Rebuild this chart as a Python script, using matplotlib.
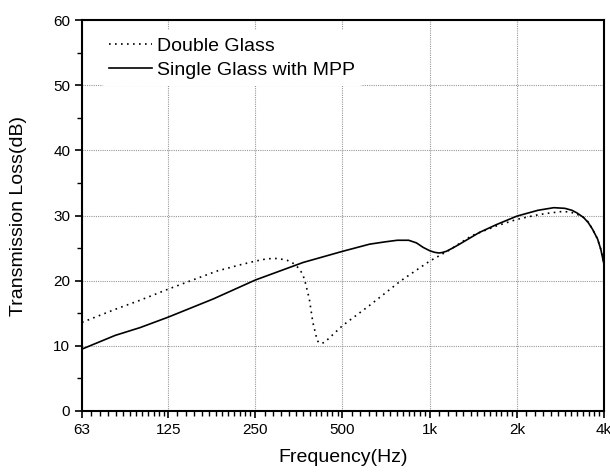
import numpy as np
import matplotlib.pyplot as plt
from matplotlib.ticker import FixedLocator, NullFormatter

plt.rcParams['font.family'] = ['Liberation Sans', 'DejaVu Sans']

# values
freq_double = [63, 82, 100, 125, 154, 185, 200, 220, 250, 270, 285, 300, 323, 340, 355, 365,
               372, 384, 395, 409, 417, 425, 434, 460, 500, 620, 796, 1000, 1160, 1397, 1700,
               2000, 2300, 2515, 2850, 3050, 3225, 3400, 3530, 3650, 3800, 3900, 4000]
tl_double = [13.6, 15.6, 17.0, 18.7, 20.2, 21.5, 21.9, 22.4, 23.0, 23.3, 23.4, 23.4, 23.1, 22.6, 21.8, 20.9,
             19.7, 17.2, 13.6, 10.8, 10.4, 10.4, 10.55, 11.6, 13.1, 16.2, 20.0, 23.0, 24.6, 26.9, 28.4,
             29.4, 30.0, 30.3, 30.6, 30.55, 30.2, 29.7, 29.0, 27.9, 26.4, 24.8, 22.5]

freq_single = [63, 82, 100, 125, 179, 250, 366, 500, 620, 700, 773, 846, 900, 950, 1000, 1040,
               1075, 1100, 1141, 1200, 1268, 1485, 1700, 2000, 2366, 2683, 2930, 3100, 3225,
               3400, 3530, 3650, 3800, 3900, 4000]
tl_single = [9.5, 11.6, 12.8, 14.4, 17.2, 20.1, 22.8, 24.5, 25.6, 25.95, 26.2, 26.2, 25.8, 25.1, 24.6, 24.35,
             24.25, 24.3, 24.5, 25.0, 25.6, 27.4, 28.6, 29.9, 30.8, 31.2, 31.1, 30.8, 30.4,
             29.7, 28.9, 27.9, 26.4, 24.8, 22.5]

xticks = [63, 125, 250, 500, 1000, 2000, 4000]
xlabels = ['63', '125', '250', '500', '1k', '2k', '4k']

fig = plt.figure(figsize=(6.1, 4.72), dpi=100)
ax = fig.add_axes([82 / 610, 1 - 411 / 472, 522 / 610, 391 / 472])

ax.plot(freq_double, tl_double, color='black', lw=1.2, linestyle=(0, (1, 2.6)), label='Double Glass')
ax.plot(freq_single, tl_single, color='black', lw=1.2, label='Single Glass with MPP')

ax.set_xscale('log')
ax.set_xlim(63, 4000)
ax.set_ylim(0, 60)
ax.xaxis.set_major_locator(FixedLocator(xticks))
ax.set_xticklabels(xlabels)
minors = []
for f0 in xticks[:-1]:
    minors += [f0 * (1 + k / 13) for k in range(1, 13)]
ax.xaxis.set_minor_locator(FixedLocator(minors))
ax.xaxis.set_minor_formatter(NullFormatter())
ax.set_yticks(range(0, 61, 10))
ax.set_yticks(range(5, 60, 10), minor=True)

ax.grid(True, which='major', color='#999999', linestyle=(0, (1, 1)), lw=0.8)
ax.tick_params(which='major', direction='out', length=5, width=1.2, labelsize=11)
ax.tick_params(which='minor', direction='out', length=3.5, width=1.0)
for s in ax.spines.values():
    s.set_linewidth(1.5)

ax.set_xlabel('Frequency(Hz)', fontsize=14, va='center')
ax.set_ylabel('Transmission Loss(dB)', fontsize=14, va='center')
ax.xaxis.set_label_coords(0.5, -0.12)
ax.yaxis.set_label_coords(-0.122, 0.5)

leg = ax.legend(loc='upper left', fontsize=14, frameon=True, handlelength=2.2,
                handletextpad=0.25, borderaxespad=0.3, labelspacing=0.3,
                bbox_to_anchor=(0.026, 0.99))
leg.get_frame().set_edgecolor('none')
leg.get_frame().set_facecolor('white')
leg.get_frame().set_alpha(1)

fig.savefig('out.png', dpi=100)
